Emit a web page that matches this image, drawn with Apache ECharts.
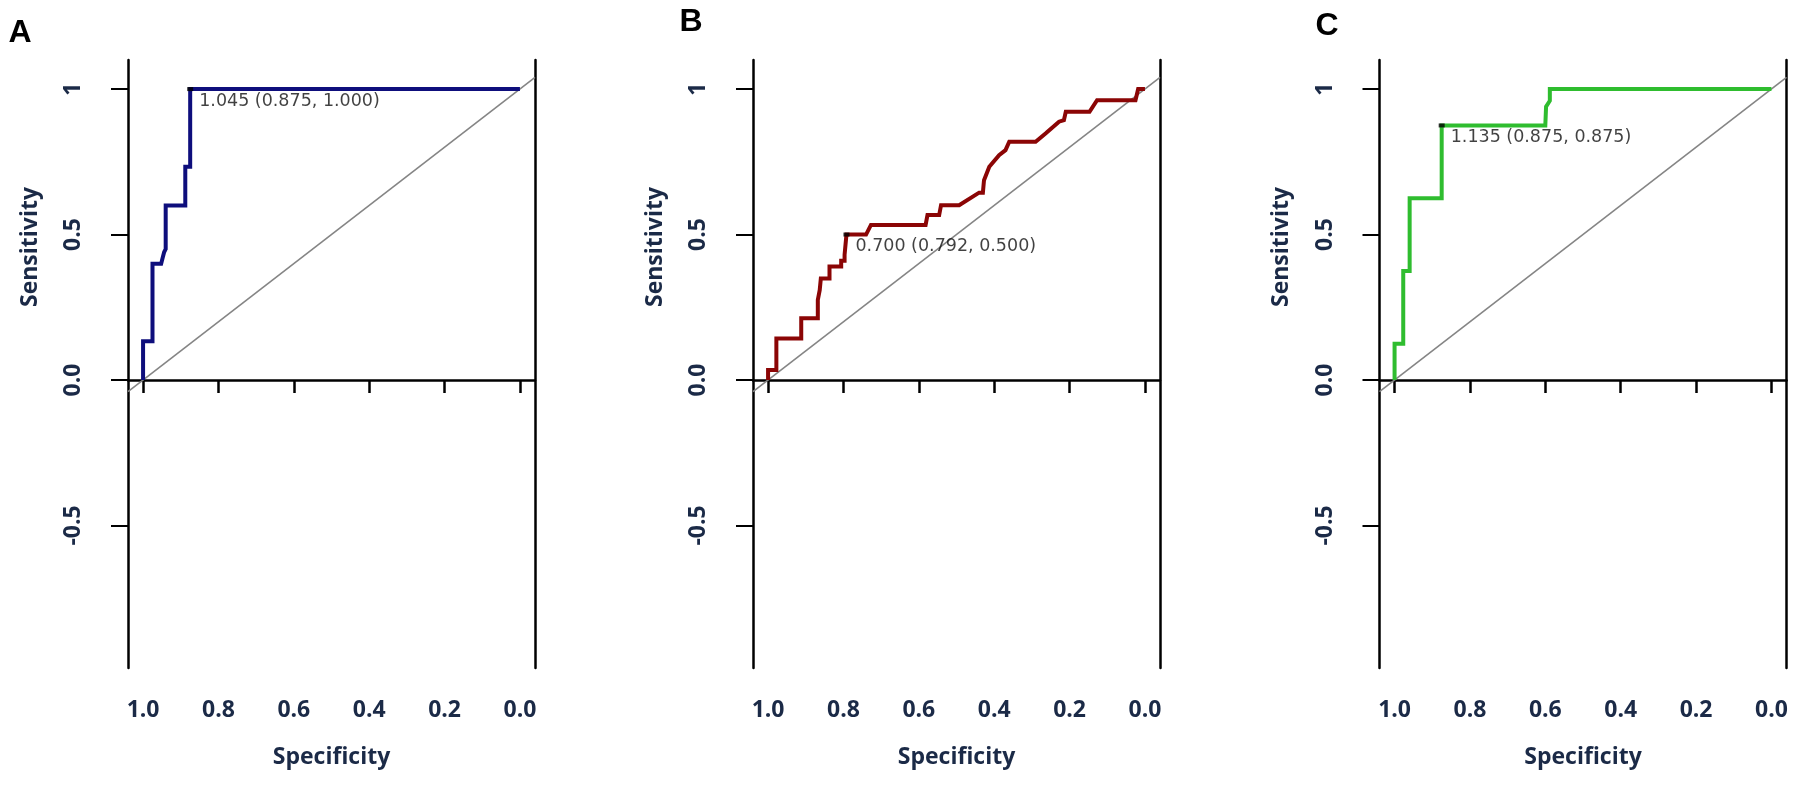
<!DOCTYPE html>
<html>
<head>
<meta charset="utf-8">
<script src="https://cdn.jsdelivr.net/npm/echarts@6.0.0/dist/echarts.min.js"></script>
<style>
html, body { margin: 0; padding: 0; background: #fff; }
#chart { width: 1797px; height: 785px; }
</style>
</head>
<body>
<div id="chart"></div>
<script>
// ROC curves, specificity on a reversed x axis, sensitivity on y
const specA = [1, 1, 0.975, 0.975, 0.952, 0.948, 0.944, 0.94, 0.94, 0.888, 0.888, 0.875, 0.875, 0];
const sensA = [0, 0.133, 0.133, 0.4, 0.4, 0.42, 0.44, 0.45, 0.6, 0.6, 0.733, 0.733, 1, 1];

const specB = [1, 1, 0.978, 0.978, 0.912, 0.912, 0.868, 0.868, 0.863, 0.86, 0.837, 0.837, 0.806, 0.806,
    0.797, 0.797, 0.792, 0.792, 0.74, 0.727, 0.582, 0.577, 0.546, 0.541, 0.493, 0.44, 0.43, 0.427,
    0.413, 0.387, 0.37, 0.36, 0.29, 0.263, 0.228, 0.215, 0.21, 0.147, 0.127, 0.025, 0.018, 0];
const sensB = [0, 0.034, 0.034, 0.143, 0.143, 0.212, 0.212, 0.275, 0.309, 0.349, 0.349, 0.39, 0.39, 0.41,
    0.41, 0.43, 0.43, 0.5, 0.5, 0.533, 0.533, 0.567, 0.567, 0.601, 0.601, 0.644, 0.644, 0.687,
    0.733, 0.773, 0.79, 0.819, 0.819, 0.848, 0.888, 0.893, 0.922, 0.922, 0.962, 0.962, 1, 1];

const specC = [1, 1, 0.977, 0.977, 0.96, 0.96, 0.875, 0.875, 0.6, 0.598, 0.588, 0.588, 0];
const sensC = [0, 0.125, 0.125, 0.375, 0.375, 0.625, 0.625, 0.875, 0.875, 0.94, 0.96, 1, 1];

// best threshold printed on each curve
const thrSpec = [0.875, 0.792, 0.875];
const thrSens = [1.0, 0.5, 0.875];
const thrLabels = ['1.045 (0.875, 1.000)', '0.700 (0.792, 0.500)', '1.135 (0.875, 0.875)'];

const panelNames = ['A', 'B', 'C'];
const curveColors = ['#0e0e7c', '#8b0505', '#2fbd2f'];
const xTicks = [1.0, 0.8, 0.6, 0.4, 0.2, 0.0];
const yTicks = [-0.5, 0, 0.5, 1];
const yTickLabels = ['-0.5', '0.0', '0.5', '1'];

const xMin = -0.04, xMax = 1.04;
const yMin = -0.99, yMax = 1.1;

const gridLeft = [128, 753, 1379.5];
const gridWidth = 407;
const navy = '#1b2a47';
const axisFont = 'Open Sans';

const curves = [
    specA.map((s, i) => [s, sensA[i]]),
    specB.map((s, i) => [s, sensB[i]]),
    specC.map((s, i) => [s, sensC[i]])
];

const grids = [], xAxes = [], yAxes = [], series = [], graphics = [];

gridLeft.forEach((left, p) => {
    grids.push({ left: left, top: 60, width: gridWidth, height: 608 });

    xAxes.push({
        type: 'value', gridIndex: p, inverse: true, min: xMin, max: xMax,
        name: 'Specificity', nameLocation: 'middle', nameGap: 78,
        nameTextStyle: { fontFamily: axisFont, fontWeight: 'bold', fontSize: 23, color: navy },
        axisLine: { show: true, lineStyle: { color: '#000', width: 2.5 } },
        axisTick: { show: true, customValues: xTicks, length: 13, lineStyle: { color: '#000', width: 2.5 } },
        axisLabel: {
            customValues: xTicks, margin: 31,
            fontFamily: axisFont, fontWeight: 'bold', fontSize: 23, color: navy,
            formatter: v => v.toFixed(1)
        },
        splitLine: { show: false }
    });

    yAxes.push({
        type: 'value', gridIndex: p, min: yMin, max: yMax, position: 'left',
        axisLine: { show: true, onZero: false, lineStyle: { color: '#000', width: 2.5 } },
        axisTick: { show: true, customValues: yTicks, length: 17, lineStyle: { color: '#000', width: 2 } },
        axisLabel: {
            customValues: yTicks, rotate: 90, margin: 43,
            fontFamily: axisFont, fontWeight: 'bold', fontSize: 23, color: navy,
            formatter: v => yTickLabels[yTicks.indexOf(v)] || ''
        },
        splitLine: { show: false }
    });
    // right side of the box
    yAxes.push({
        type: 'value', gridIndex: p, min: yMin, max: yMax, position: 'right',
        axisLine: { show: true, onZero: false, lineStyle: { color: '#000', width: 2.5 } },
        axisTick: { show: false }, axisLabel: { show: false }, splitLine: { show: false }
    });

    // chance line
    series.push({
        type: 'line', xAxisIndex: p, yAxisIndex: p * 2, silent: true, symbol: 'none',
        lineStyle: { color: '#858585', width: 1.6 },
        data: [[xMax, 1 - xMax], [xMin, 1 - xMin]], z: 2
    });
    series.push({
        type: 'line', xAxisIndex: p, yAxisIndex: p * 2, symbol: 'none',
        lineStyle: { color: curveColors[p], width: 4, join: 'miter' },
        data: curves[p], z: 3
    });
    series.push({
        type: 'scatter', xAxisIndex: p, yAxisIndex: p * 2,
        symbol: 'rect', symbolSize: [6, 4], itemStyle: { color: '#000' },
        data: [[thrSpec[p], thrSens[p]]], z: 4,
        label: {
            show: true, position: 'right', distance: 0, offset: [6, 12],
            formatter: thrLabels[p],
            fontFamily: 'DejaVu Sans', fontSize: 17.5, color: '#111'
        }
    });

    graphics.push({
        type: 'text', x: left - 98, y: 247, rotation: Math.PI / 2,
        style: {
            text: 'Sensitivity', fontFamily: axisFont, fontWeight: 'bold', fontSize: 23,
            fill: navy, textAlign: 'center', textVerticalAlign: 'middle'
        }
    });
});

const letterPos = [[20, 33], [691, 22], [1327, 26]];
letterPos.forEach((pos, p) => {
    graphics.push({
        type: 'text', x: pos[0], y: pos[1],
        style: {
            text: panelNames[p], fontFamily: 'Liberation Sans', fontWeight: 'bold', fontSize: 32,
            fill: '#000', textAlign: 'center', textVerticalAlign: 'middle'
        }
    });
});

const chart = echarts.init(document.getElementById('chart'));
chart.setOption({
    backgroundColor: '#fff',
    animation: false,
    grid: grids,
    xAxis: xAxes,
    yAxis: yAxes,
    series: series,
    graphic: graphics
});
</script>
</body>
</html>
